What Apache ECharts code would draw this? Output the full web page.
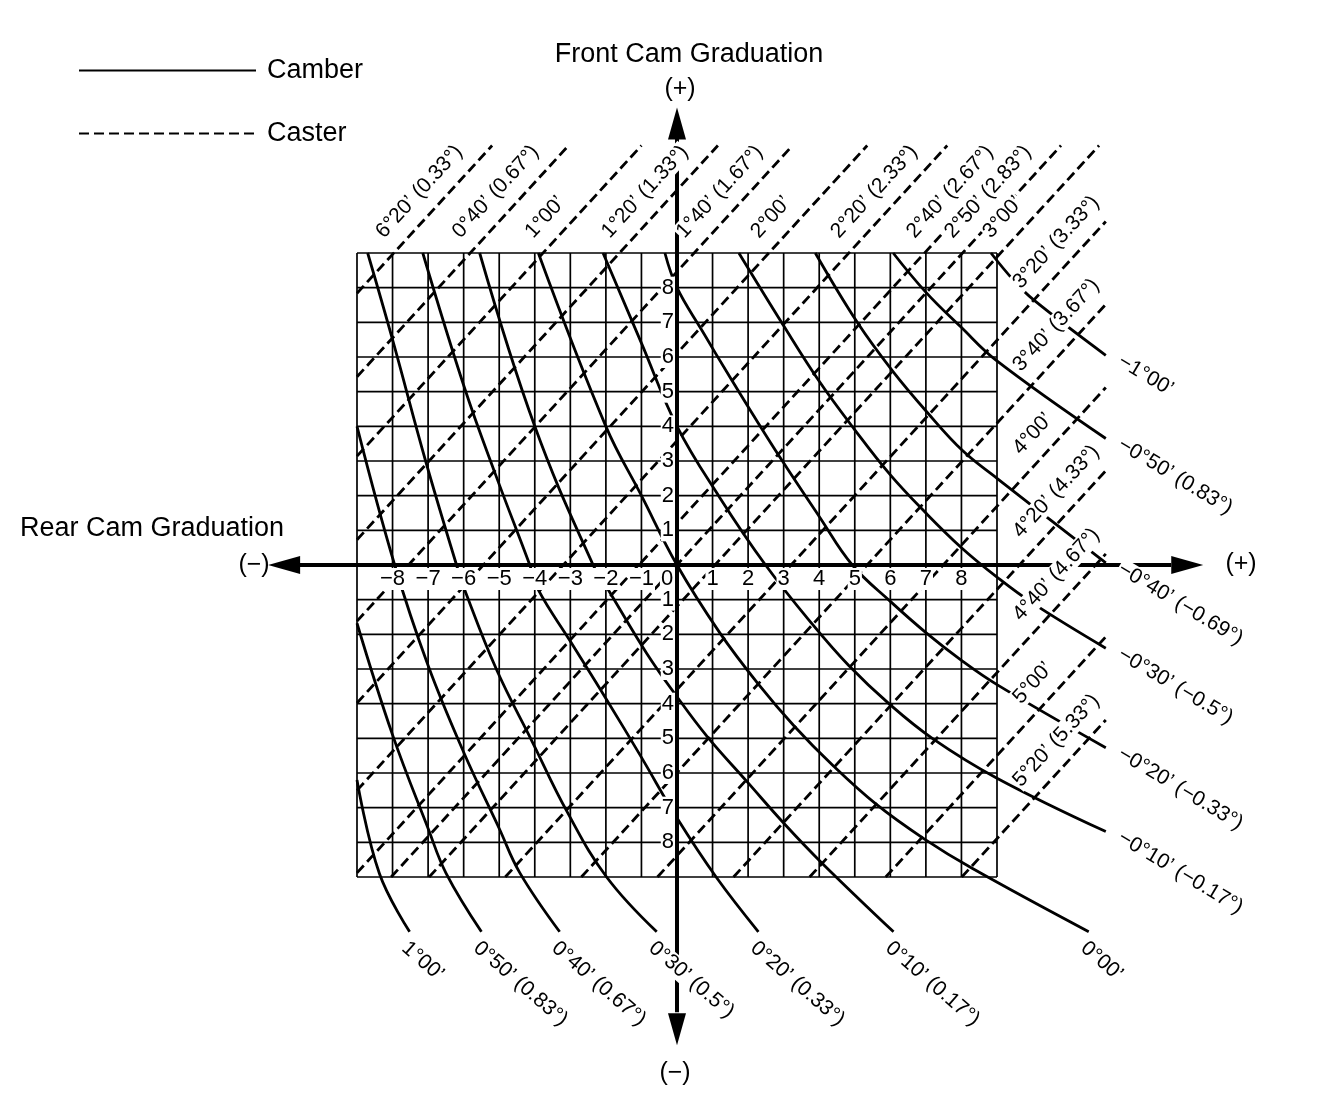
<!DOCTYPE html>
<html><head><meta charset="utf-8">
<script src="https://cdn.jsdelivr.net/npm/echarts@6/dist/echarts.min.js"></script>
<style>html,body{margin:0;padding:0;background:#fff}#c{width:1328px;height:1100px}</style>
</head><body><div id="c"></div>
<script>
// ---------------- data ----------------
const gridValues = [-9,-8,-7,-6,-5,-4,-3,-2,-1,0,1,2,3,4,5,6,7,8,9];
const xTickValues = [-8,-7,-6,-5,-4,-3,-2,-1,0,1,2,3,4,5,6,7,8];
const xTickLabels = ['−8','−7','−6','−5','−4','−3','−2','−1','0','1','2','3','4','5','6','7','8'];
const yTickValues = [8,7,6,5,4,3,2,1,-1,-2,-3,-4,-5,-6,-7,-8];
const yTickLabels = ['8','7','6','5','4','3','2','1','1','2','3','4','5','6','7','8'];

// caster lines (dashed): start / end points in cam graduations
const casterNames = ['6°20’ (0.33°)','0°40’ (0.67°)','1°00’','1°20’ (1.33°)','1°40’ (1.67°)','2°00’','2°20’ (2.33°)','2°40’ (2.67°)','2°50’ (2.83°)','3°00’','3°20’ (3.33°)','3°40’ (3.67°)','4°00’','4°20’ (4.33°)','4°40’ (4.67°)','5°00’','5°20’ (5.33°)'];
const casterStart = [[-9,7.84],[-9,5.43],[-9,3.14],[-9,0.73],[-9,-1.62],[-9,-3.98],[-9,-6.5],[-9,-8.88],[-8.04,-9],[-6.97,-9],[-4.83,-9],[-2.69,-9],[-0.55,-9],[1.59,-9],[3.73,-9],[5.87,-9],[8.01,-9]];
const casterEnd = [[-5.2,12.1],[-3.05,12.1],[-1.0,12.1],[1.15,12.1],[3.25,12.1],[5.35,12.1],[7.6,12.1],[9.73,12.1],[10.8,12.1],[11.87,12.1],[12.06,9.91],[12.06,7.52],[12.06,5.12],[12.06,2.72],[12.06,0.32],[12.06,-2.07],[12.06,-4.47]];
const casterLabelSide = ['top','top','top','top','top','top','top','top','top','top','right','right','right','right','right','right','right'];

// camber curves (solid)
const camberNames = ['−1°00’','−0°50’ (0.83°)','−0°40’ (−0.69°)','−0°30’ (−0.5°)','−0°20’ (−0.33°)','−0°10’ (−0.17°)','0°00’','0°10’ (0.17°)','0°20’ (0.33°)','0°30’ (0.5°)','0°40’ (0.67°)','0°50’ (0.83°)','1°00’'];
const camberNeg100 = [[8.83,9],[9.47,8.21],[10.04,7.64],[12.06,6.05]];
const camberNeg050 = [[6.08,9],[6.99,7.88],[7.98,6.87],[8.97,5.91],[12.06,3.65]];
const camberNeg040 = [[3.89,9],[5.07,7.0],[6.06,5.6],[7.04,4.4],[8.03,3.3],[9,2.5],[12.06,0.06]];
const camberNeg030 = [[1.74,9],[3.0,6.9],[4.0,5.3],[5.0,3.9],[6.0,2.6],[7.0,1.5],[8.0,0.5],[9.0,-0.35],[10.0,-1.1],[12.06,-2.4]];
const camberNeg020 = [[-0.34,9],[0,8.0],[0.7,6.77],[1.5,5.4],[2.1,4.4],[2.9,3.1],[4.0,1.4],[4.93,0],[6.0,-1.05],[7.0,-1.95],[8.0,-2.75],[9.0,-3.45],[12.06,-5.27]];
const camberNeg010 = [[-2.08,9],[-1,6.4],[0,4],[1.2,1.95],[2.49,0],[3.8,-1.7],[4.83,-2.9],[5.96,-4.0],[7.18,-5.0],[9,-6.15],[12.06,-7.69]];
const camber000 = [[-3.9,9],[-2,4],[-1,2],[0,0],[1.2,-1.95],[2.3,-3.45],[3.3,-4.65],[4.4,-5.8],[5.6,-6.9],[6.95,-7.9],[8.3,-8.75],[11.58,-10.58]];
const camber010 = [[-5.55,9],[-4,4],[-2.36,0],[-1.93,-0.72],[-0.85,-2.55],[0,-3.8],[0.85,-4.95],[1.97,-6.25],[3.05,-7.5],[4.08,-8.6],[6.09,-10.58]];
const camber020 = [[-7.15,9],[-5.97,5.09],[-5.1,2.6],[-4.14,0],[-3.9,-0.72],[-3,-2.2],[-2,-3.85],[-1,-5.55],[0,-7.3],[1.1,-9],[2.29,-10.58]];
const camber030 = [[-8.7,9],[-8,6.5],[-7.07,3],[-6.2,0],[-5.97,-0.72],[-5.07,-3.03],[-4.07,-5.1],[-3.1,-7.1],[-1.98,-9],[-0.57,-10.58]];
const camber040 = [[-9,4],[-7.94,0],[-7.0,-2.9],[-6.0,-5.4],[-5.0,-7.6],[-4.42,-8.88],[-3.3,-10.58]];
const camber050 = [[-9,-1.68],[-8,-4.9],[-7,-7.6],[-6.49,-8.9],[-5.5,-10.58]];
const camber100 = [[-9,-6.2],[-8.37,-8.9],[-7.52,-10.58]];
const camberCurves = [camberNeg100,camberNeg050,camberNeg040,camberNeg030,camberNeg020,camberNeg010,camber000,camber010,camber020,camber030,camber040,camber050,camber100];
const camberLabelSide = ['right','right','right','right','right','right','bottom','bottom','bottom','bottom','bottom','bottom','bottom'];

// main axes with arrows
const axisXLine = [[-10.7,0],[13.9,0]];
const axisYLine = [[0,-12.9],[0,12.3]];
const arrowTips = [[-11.5,0],[14.8,0],[0,13.2],[0,-13.85]];

// ---------------- chart ----------------
const FONT = '"Liberation Sans", Arial, Helvetica, sans-serif';
const chart = echarts.init(document.getElementById('c'));
const deg = Math.PI / 180;
const GMIN = gridValues[0], GMAX = gridValues[gridValues.length - 1];

function textEl(x, y, rot, text, size, align, valign, bg) {
  const st = { text: text, fill: '#000', fontSize: size, fontFamily: FONT, align: align, verticalAlign: valign };
  if (bg) { st.backgroundColor = '#fff'; st.padding = [0, 1]; }
  return { type: 'text', x: x, y: y, rotation: rot, style: st, z2: 10 };
}

const series = [];
// grid lines
series.push({ type: 'custom', coordinateSystem: 'cartesian2d', z: 1, silent: true,
  data: gridValues.map(function (v) { return [v, v]; }),
  renderItem: function (params, api) {
    const v = gridValues[params.dataIndex];
    const a = api.coord([v, GMIN]), b = api.coord([v, GMAX]);
    const c = api.coord([GMIN, v]), d = api.coord([GMAX, v]);
    const st = { stroke: '#000', lineWidth: 1.7 };
    return { type: 'group', children: [
      { type: 'line', shape: { x1: a[0], y1: a[1], x2: b[0], y2: b[1] }, style: st },
      { type: 'line', shape: { x1: c[0], y1: c[1], x2: d[0], y2: d[1] }, style: st }
    ] };
  }
});
camberCurves.forEach(function (pts) {
  series.push({ name: 'Camber', type: 'line', data: pts, smooth: 0.4, symbol: 'none', color: '#000',
    lineStyle: { color: '#000', width: 2.8 }, z: 3, silent: true });
});
casterStart.forEach(function (s, i) {
  series.push({ name: 'Caster', type: 'line', data: [s, casterEnd[i]], symbol: 'none', color: '#000',
    lineStyle: { color: '#000', width: 2.8, type: [10, 5] }, z: 2, silent: true });
});
series.push({ type: 'line', data: axisXLine, symbol: 'none', lineStyle: { color: '#000', width: 4 }, z: 4, silent: true });
series.push({ type: 'line', data: axisYLine, symbol: 'none', lineStyle: { color: '#000', width: 4 }, z: 4, silent: true });

series.push({ type: 'custom', coordinateSystem: 'cartesian2d', z: 6, silent: true,
  data: arrowTips,
  renderItem: function (params, api) {
    const tip = api.coord([api.value(0), api.value(1)]);
    const o = api.coord([0, 0]);
    let dx = tip[0] - o[0], dy = tip[1] - o[1];
    const L = Math.hypot(dx, dy); dx /= L; dy /= L;
    const len = 32, hw = 9;
    const bx = tip[0] - dx * len, by = tip[1] - dy * len;
    return { type: 'polygon', shape: { points: [[tip[0], tip[1]], [bx - dy * hw, by + dx * hw], [bx + dy * hw, by - dx * hw]] }, style: { fill: '#000' } };
  }
});

// tick labels
const tickData = xTickValues.map(function (v) { return [v, 0]; }).concat(yTickValues.map(function (v) { return [0, v]; }));
series.push({ type: 'custom', coordinateSystem: 'cartesian2d', z: 8, silent: true,
  data: tickData,
  renderItem: function (params, api) {
    const i = params.dataIndex;
    const p = api.coord([api.value(0), api.value(1)]);
    if (i < xTickValues.length) {
      const v = xTickValues[i];
      return textEl(p[0] + (v === 0 ? -10 : 0), p[1] + 3, 0, xTickLabels[i], 22, 'center', 'top', true);
    }
    const j = i - xTickValues.length;
    return textEl(p[0] - 2, p[1], 0, yTickLabels[j], 22, 'right', 'middle', true);
  }
});

// caster labels
series.push({ type: 'custom', coordinateSystem: 'cartesian2d', z: 7, silent: true,
  data: casterEnd,
  renderItem: function (params, api) {
    const i = params.dataIndex;
    const s = casterStart[i], e = casterEnd[i];
    const a = api.coord(s), b = api.coord(e);
    const dx = b[0] - a[0], dy = b[1] - a[1];
    const L = Math.hypot(dx, dy); const ux = dx / L, uy = dy / L;
    const nx = uy, ny = -ux;
    let P;
    if (casterLabelSide[i] === 'top') {
      const t = (9.06 - s[1]) / (e[1] - s[1]);
      P = api.coord([s[0] + t * (e[0] - s[0]), 9.06]);
    } else {
      const t = (10.0 - s[0]) / (e[0] - s[0]);
      P = api.coord([10.0, s[1] + t * (e[1] - s[1])]);
    }
    const rot = Math.atan2(-dy, dx);
    return textEl(P[0] + nx * 12, P[1] + ny * 12, rot, casterNames[i], 21, 'left', 'bottom', true);
  }
});

// camber labels
series.push({ type: 'custom', coordinateSystem: 'cartesian2d', z: 7, silent: true,
  data: camberCurves.map(function (c) { return c[c.length - 1]; }),
  renderItem: function (params, api) {
    const i = params.dataIndex;
    const p = api.coord([api.value(0), api.value(1)]);
    if (camberLabelSide[i] === 'right') {
      return textEl(p[0] + 13, p[1] + 4, -31 * deg, camberNames[i], 21, 'left', 'middle', true);
    }
    return textEl(p[0] + 1, p[1] + 5, -41 * deg, camberNames[i], 21, 'left', 'top', true);
  }
});

// axis range covers the whole drawing; grid cells -9..9 sit at pixels 357..997 / 253..877
const option = {
  animation: false,
  backgroundColor: '#fff',
  grid: { left: 250.33, top: 79.67, width: 960, height: 970.67, show: false },
  xAxis: { type: 'value', min: -12, max: 15, interval: 1,
    axisLine: { show: false }, axisTick: { show: false }, axisLabel: { show: false }, splitLine: { show: false } },
  yAxis: { type: 'value', min: -14, max: 14, interval: 1,
    axisLine: { show: false }, axisTick: { show: false }, axisLabel: { show: false }, splitLine: { show: false } },
  legend: { data: ['Camber', 'Caster'], orient: 'vertical', left: 78, top: 57, padding: 0,
    itemWidth: 177, itemHeight: 32, itemGap: 36, selectedMode: false,
    itemStyle: { opacity: 0, color: 'rgba(0,0,0,0)', borderWidth: 0 },
    textStyle: { fontSize: 27, fontFamily: FONT, color: '#000', padding: [0, 0, 0, 6] } },
  graphic: [
    { type: 'text', x: 689, y: 55, style: { text: 'Front Cam Graduation', fontSize: 27, fontFamily: FONT, fill: '#000', align: 'center', verticalAlign: 'middle' } },
    { type: 'text', x: 680, y: 89, style: { text: '(+)', fontSize: 25, fontFamily: FONT, fill: '#000', align: 'center', verticalAlign: 'middle' } },
    { type: 'text', x: 152, y: 529, style: { text: 'Rear Cam Graduation', fontSize: 27, fontFamily: FONT, fill: '#000', align: 'center', verticalAlign: 'middle' } },
    { type: 'text', x: 254, y: 565, style: { text: '(−)', fontSize: 25, fontFamily: FONT, fill: '#000', align: 'center', verticalAlign: 'middle' } },
    { type: 'text', x: 1241, y: 564, style: { text: '(+)', fontSize: 25, fontFamily: FONT, fill: '#000', align: 'center', verticalAlign: 'middle' } },
    { type: 'text', x: 675, y: 1073, style: { text: '(−)', fontSize: 25, fontFamily: FONT, fill: '#000', align: 'center', verticalAlign: 'middle' } }
  ],
  series: series
};
chart.setOption(option);
</script></body></html>
